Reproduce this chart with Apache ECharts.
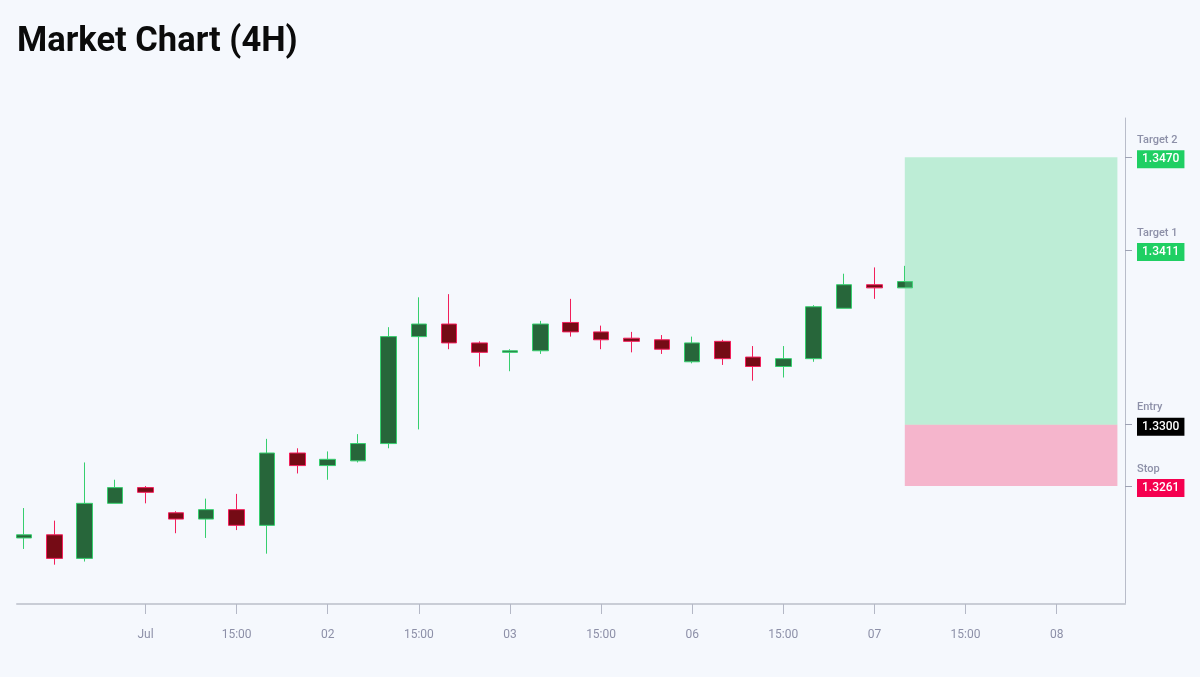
<!DOCTYPE html>
<html>
<head>
<meta charset="utf-8">
<script src="https://cdn.jsdelivr.net/npm/echarts@6/dist/echarts.min.js"></script>
<style>
  html, body { margin: 0; padding: 0; background: #f5f8fd; }
  #chart { width: 1200px; height: 677px; }
</style>
</head>
<body>
<div id="chart"></div>
<script>
// 4H candles, x = bar index
const opens  = [1.3228, 1.3230, 1.3215, 1.3250, 1.3260, 1.3244, 1.3240, 1.3246, 1.3236, 1.3282,
                1.3274, 1.3277, 1.3288, 1.3356, 1.3364, 1.3352, 1.3346, 1.3347, 1.3365, 1.3359,
                1.3355, 1.3354, 1.3340, 1.3353, 1.3343, 1.3337, 1.3342, 1.3374, 1.3389, 1.3387];
const closes = [1.3230, 1.3215, 1.3250, 1.3260, 1.3257, 1.3240, 1.3246, 1.3236, 1.3282, 1.3274,
                1.3278, 1.3288, 1.3356, 1.3364, 1.3352, 1.3346, 1.3347, 1.3364, 1.3359, 1.3354,
                1.3353, 1.3348, 1.3352, 1.3342, 1.3337, 1.3342, 1.3375, 1.3389, 1.3387, 1.3391];
const lows   = [1.3221, 1.3211, 1.3213, 1.3250, 1.3250, 1.3231, 1.3228, 1.3233, 1.3218, 1.3269,
                1.3265, 1.3276, 1.3285, 1.3297, 1.3348, 1.3337, 1.3334, 1.3345, 1.3356, 1.3348,
                1.3346, 1.3345, 1.3339, 1.3338, 1.3328, 1.3330, 1.3340, 1.3374, 1.3380, 1.3387];
const highs  = [1.3247, 1.3239, 1.3276, 1.3265, 1.3261, 1.3245, 1.3253, 1.3256, 1.3291, 1.3285,
                1.3283, 1.3294, 1.3362, 1.3381, 1.3383, 1.3353, 1.3348, 1.3366, 1.3380, 1.3363,
                1.3359, 1.3357, 1.3356, 1.3354, 1.3350, 1.3350, 1.3376, 1.3396, 1.3400, 1.3401];

const tickIndex  = [4, 7, 10, 13, 16, 19, 22, 25, 28, 31, 34];
const tickLabels = ['Jul', '15:00', '02', '15:00', '03', '15:00', '06', '15:00', '07', '15:00', '08'];

const levelNames  = ['Target 2', 'Target 1', 'Entry', 'Stop'];
const levelValues = [1.3470, 1.3411, 1.3300, 1.3261];
const levelStyles = ['t', 't', 'e', 's'];

const zoneStart = 29;
const zoneEnd = 36;
const entry = 1.3300, stop = 1.3261, target2 = 1.3470;

const candles = opens.map((o, i) => [i, o, closes[i], lows[i], highs[i]]);

const chart = echarts.init(document.getElementById('chart'));

const valBox = (bg) => ({
  color: '#fff', backgroundColor: bg, fontSize: 12, fontWeight: 500,
  fontFamily: 'Roboto', height: 18, lineHeight: 18, padding: [0, 5]
});

chart.setOption({
  backgroundColor: '#f5f8fd',
  animation: false,
  title: {
    text: 'Market Chart (4H)',
    left: 12, top: 20,
    textStyle: { fontFamily: 'Roboto', fontSize: 34.5, fontWeight: 'bold', color: '#0b0b0b' }
  },
  grid: { left: 17, right: 75, top: 118, bottom: 73 },
  xAxis: {
    type: 'value',
    min: -0.23,
    max: 36.25,
    splitLine: { show: false },
    axisLine: { show: true, onZero: false, lineStyle: { color: '#c9cdd6', width: 2 } },
    axisTick: { show: true, length: 10, customValues: tickIndex, lineStyle: { color: '#b4b8c6' } },
    axisLabel: {
      customValues: tickIndex,
      margin: 25,
      color: '#8d90a8', fontSize: 12, fontFamily: 'Roboto',
      formatter: (v) => tickLabels[tickIndex.indexOf(Math.round(v))] || ''
    }
  },
  yAxis: {
    type: 'value',
    position: 'right',
    min: 1.3186,
    max: 1.3495,
    scale: true,
    splitLine: { show: false },
    axisLine: { show: true, onZero: false, lineStyle: { color: '#b9bdca' } },
    axisTick: { show: true, length: 7, customValues: levelValues, lineStyle: { color: '#9ea2b4' } },
    axisLabel: {
      customValues: levelValues,
      margin: 12,
      align: 'left',
      formatter: (v) => {
        const i = levelValues.findIndex(x => Math.abs(x - v) < 1e-6);
        if (i < 0) return '';
        return '{n|' + levelNames[i] + '}\n{' + levelStyles[i] + '|' + levelValues[i].toFixed(4) + '}\n{sp| }';
      },
      rich: {
        n: { color: '#8d90a8', fontSize: 11, fontWeight: 500, fontFamily: 'Roboto', lineHeight: 20 },
        t: valBox('#1fcf63'),
        e: valBox('#000000'),
        s: valBox('#f5004f'),
        sp: { fontSize: 11, lineHeight: 16 }
      }
    }
  },
  series: [
    {
      type: 'candlestick',
      data: candles,
      encode: { x: 0, y: [1, 2, 3, 4] },
      barWidth: 16,
      itemStyle: {
        color: '#27663a', color0: '#750b15',
        borderColor: '#36cf6e', borderColor0: '#f21f5b',
        borderWidth: 1
      }
    },
    {
      type: 'line',
      data: [],
      z: 10,
      markArea: {
        silent: true,
        z: 10,
        data: [
          [{ coord: [zoneStart, target2], itemStyle: { color: 'rgba(85,219,139,0.35)' } }, { coord: [zoneEnd, entry] }],
          [{ coord: [zoneStart, entry], itemStyle: { color: 'rgba(245,57,113,0.35)' } }, { coord: [zoneEnd, stop] }]
        ]
      }
    }
  ]
});
</script>
</body>
</html>
